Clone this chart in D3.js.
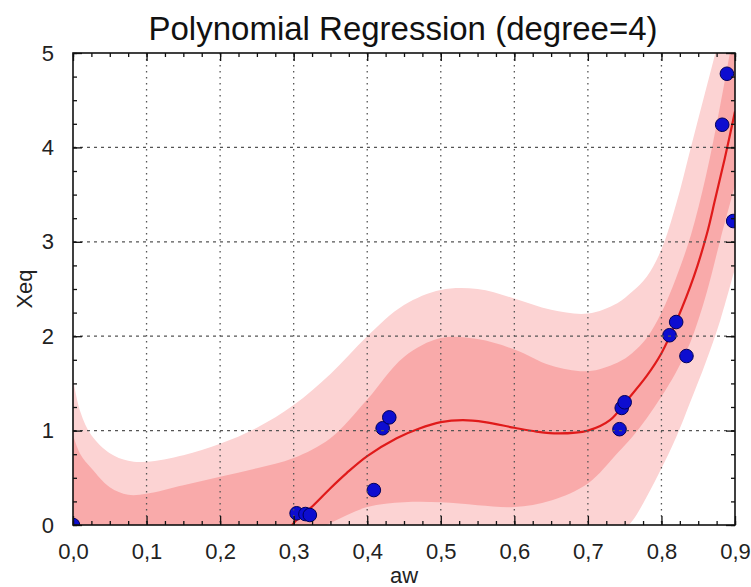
<!DOCTYPE html>
<html><head><meta charset="utf-8">
<script src="https://cdn.jsdelivr.net/npm/d3@7"></script>
<style>html,body{margin:0;padding:0;background:#fff;}svg{display:block;font-family:"Liberation Sans",Arial,Helvetica,sans-serif;}</style>
</head><body>
<svg id="chart" width="751" height="587"></svg>
<script>
// ---- data ----
const title = "Polynomial Regression (degree=4)";
const xLabel = "aw";
const yLabel = "Xeq";
const xTicks = [0,0.1,0.2,0.3,0.4,0.5,0.6,0.7,0.8,0.9];
const yTicks = [0,1,2,3,4,5];
const pointsAw  = [0.0, 0.304, 0.316, 0.322, 0.409, 0.421, 0.430, 0.743, 0.746, 0.750, 0.811, 0.820, 0.834, 0.8826, 0.889, 0.8975];
const pointsXeq = [0.0, 0.124, 0.116, 0.106, 0.37, 1.025, 1.14, 1.015, 1.24, 1.30, 2.01, 2.15, 1.79, 4.24, 4.78, 3.22];
const fitAw  = [0.28, 0.30, 0.327, 0.35, 0.372, 0.40, 0.44, 0.47, 0.50, 0.53, 0.56, 0.60, 0.63, 0.66, 0.70, 0.73, 0.753, 0.78, 0.80, 0.821, 0.844, 0.862, 0.873, 0.886, 0.90];
const fitXeq = [-0.22, 0.02, 0.21, 0.39, 0.55, 0.73, 0.92, 1.02, 1.09, 1.11, 1.09, 1.03, 0.99, 0.97, 1.0, 1.11, 1.32, 1.58, 1.82, 2.17, 2.63, 3.09, 3.45, 3.88, 4.38];
const bandAw   = [0, 0.01, 0.025, 0.05, 0.075, 0.1, 0.15, 0.2, 0.25, 0.3, 0.35, 0.4, 0.45, 0.5, 0.55, 0.6, 0.65, 0.7, 0.74, 0.76, 0.78, 0.8, 0.82, 0.84, 0.86, 0.88, 0.9];
const outerUp  = [1.55, 1.2, 0.95, 0.76, 0.68, 0.67, 0.74, 0.86, 1.03, 1.27, 1.6, 2.0, 2.33, 2.49, 2.50, 2.40, 2.28, 2.24, 2.35, 2.47, 2.63, 2.92, 3.4, 4.0, 4.6, 5.2, 5.8];
const outerLo  = [-3.0, -2.6, -2.2, -1.8, -1.6, -1.5, -1.3, -1.15, -1.0, -0.85, -0.7, -0.5, -0.4, -0.35, -0.35, -0.4, -0.4, -0.3, -0.1, 0.04, 0.30, 0.60, 0.93, 1.32, 1.72, 2.17, 2.72];
const innerUp  = [0.95, 0.75, 0.6, 0.40, 0.32, 0.33, 0.42, 0.51, 0.60, 0.71, 0.92, 1.33, 1.78, 1.98, 1.97, 1.86, 1.69, 1.63, 1.72, 1.82, 1.98, 2.25, 2.62, 3.07, 3.68, 4.45, 5.3];
const innerLo  = [-2.0, -1.7, -1.4, -1.1, -0.95, -0.85, -0.65, -0.5, -0.33, -0.18, 0.02, 0.19, 0.24, 0.24, 0.21, 0.19, 0.26, 0.44, 0.76, 0.93, 1.13, 1.36, 1.62, 1.95, 2.42, 3.02, 3.6];

// ---- layout ----
const L = 73, R = 735, T = 53, B = 525;
const svg = d3.select("#chart");
const x = d3.scaleLinear().domain([0, 0.9]).range([L, R]);
const y = d3.scaleLinear().domain([0, 5]).range([B, T]);

svg.append("defs").append("clipPath").attr("id","clip")
  .append("rect").attr("x",L).attr("y",T).attr("width",R-L).attr("height",B-T);
const plot = svg.append("g").attr("clip-path","url(#clip)");

const band = (up, lo) => d3.area().curve(d3.curveCatmullRom)
  .x((d,i)=>x(bandAw[i])).y0((d,i)=>y(lo[i])).y1((d,i)=>y(up[i]))(bandAw);
plot.append("path").attr("d", band(outerUp, outerLo)).attr("fill","#fcd3d3");
plot.append("path").attr("d", band(innerUp, innerLo)).attr("fill","#f9aaaa");

// grid
const grid = svg.append("g");
xTicks.filter(v=>v>0 && v<0.9).forEach(v=>{
  grid.append("line").attr("x1",x(v)).attr("x2",x(v)).attr("y1",T).attr("y2",B)
    .attr("stroke","#555").attr("stroke-width",1.3).attr("stroke-dasharray","1.5,4.5");
});
yTicks.filter(v=>v>0 && v<5).forEach(v=>{
  grid.append("line").attr("x1",L).attr("x2",R).attr("y1",y(v)).attr("y2",y(v))
    .attr("stroke","#555").attr("stroke-width",1.3).attr("stroke-dasharray","3,4");
});

// fit curve
plot.append("path")
  .attr("d", d3.line().curve(d3.curveCatmullRom).x((d,i)=>x(fitAw[i])).y((d,i)=>y(fitXeq[i]))(fitAw))
  .attr("fill","none").attr("stroke","#e01a1a").attr("stroke-width",2.2);

// points
plot.selectAll("circle.pt").data(pointsAw).join("circle").attr("class","pt")
  .attr("cx",(d,i)=>x(pointsAw[i])).attr("cy",(d,i)=>y(pointsXeq[i])).attr("r",6.8)
  .attr("fill","#0d0dd0").attr("stroke","#00005a").attr("stroke-width",1);

// axes
const fmt = d => d3.format(".1f")(d).replace(".", ",");
const minorX = d3.range(0, 0.9001, 0.025);
const minorY = d3.range(0, 5.001, 0.25);
const styleAxis = g => { g.select(".domain").remove(); g.selectAll("line").attr("stroke","#111").attr("stroke-width",1.3); };

svg.append("g").attr("transform",`translate(0,${B})`).call(d3.axisBottom(x).tickValues(minorX).tickSize(-4).tickFormat("")).call(styleAxis);
svg.append("g").attr("transform",`translate(0,${T})`).call(d3.axisTop(x).tickValues(minorX).tickSize(-4).tickFormat("")).call(styleAxis);
svg.append("g").attr("transform",`translate(${L},0)`).call(d3.axisLeft(y).tickValues(minorY).tickSize(-4).tickFormat("")).call(styleAxis);
svg.append("g").attr("transform",`translate(${R},0)`).call(d3.axisRight(y).tickValues(minorY).tickSize(-4).tickFormat("")).call(styleAxis);

const xb = svg.append("g").attr("transform",`translate(0,${B})`)
  .call(d3.axisBottom(x).tickValues(xTicks).tickSize(-9).tickPadding(18).tickFormat(fmt)).call(styleAxis);
xb.selectAll("text").attr("font-size",22).attr("fill","#222").attr("font-family","Liberation Sans, Arial, sans-serif");
svg.append("g").attr("transform",`translate(0,${T})`).call(d3.axisTop(x).tickValues(xTicks).tickSize(-8).tickFormat("")).call(styleAxis);
const yl = svg.append("g").attr("transform",`translate(${L},0)`)
  .call(d3.axisLeft(y).tickValues(yTicks).tickSize(-9).tickPadding(19).tickFormat(d3.format("d"))).call(styleAxis);
yl.selectAll("text").attr("font-size",22).attr("fill","#222").attr("font-family","Liberation Sans, Arial, sans-serif");
svg.append("g").attr("transform",`translate(${R},0)`).call(d3.axisRight(y).tickValues(yTicks).tickSize(-9).tickFormat("")).call(styleAxis);

// frame
svg.append("rect").attr("x",L).attr("y",T).attr("width",R-L).attr("height",B-T)
  .attr("fill","none").attr("stroke","#111").attr("stroke-width",1.6);

// labels
svg.append("text").attr("x",403).attr("y",40).attr("text-anchor","middle")
  .attr("font-size",33).attr("fill","#111").text(title);
svg.append("text").attr("x",404).attr("y",583).attr("text-anchor","middle")
  .attr("font-size",22).attr("fill","#222").text(xLabel);
svg.append("text").attr("transform","translate(32,289) rotate(-90)").attr("text-anchor","middle")
  .attr("font-size",22).attr("fill","#222").text(yLabel);
</script>
</body></html>
